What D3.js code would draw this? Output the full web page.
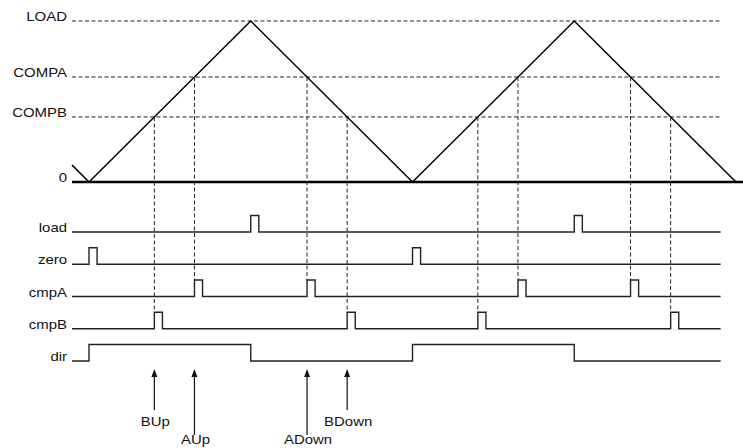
<!DOCTYPE html>
<html>
<head>
<meta charset="utf-8">
<script src="https://cdn.jsdelivr.net/npm/d3@7"></script>
<style>
  html, body { margin: 0; padding: 0; background: #fff; }
  svg { display: block; }
  text { font-family: "Liberation Sans", Arial, Helvetica, sans-serif; font-size: 13px; fill: #111; }
</style>
</head>
<body>
<svg id="chart" width="743" height="448"></svg>
<script>
// ---- data ----
const counterTimes  = [-10.5, 0, 100, 200, 300, 400];
const counterValues = [10.5, 0, 100, 0, 100, 0];
const levelNames  = ["LOAD", "COMPA", "COMPB", "0"];
const levelValues = [100, 65.2, 40.4, 0];
const signalNames = ["load", "zero", "cmpA", "cmpB", "dir"];
const loadEvents = [100, 300];
const zeroEvents = [0, 200];
const dirUpEvents = [0, 200];
const dirDownEvents = [100, 300];
const arrowNames = ["BUp", "AUp", "ADown", "BDown"];
const arrowLevels = ["COMPB", "COMPA", "COMPA", "COMPB"];
const arrowDirections = ["up", "up", "down", "down"];
const pulseWidth = 5;
const signalStart = -10.5, signalEnd = 390.5;

// ---- scales ----
const svg = d3.select("#chart");
const x = d3.scaleLinear().domain([0, 400]).range([89, 736]);
const y = d3.scaleLinear().domain([0, 100]).range([182, 21]);
const ySig = d3.scalePoint().domain(signalNames).range([232, 361]);
const pulseH = 16.5;
const stretch = 1.15;
const labelX = 67;

const level = name => levelValues[levelNames.indexOf(name)];

// crossing times of counter with a level
function crossings(v) {
  const out = [];
  for (let i = 0; i < counterTimes.length - 1; i++) {
    const a = counterValues[i], b = counterValues[i + 1];
    if ((v - a) * (v - b) < 0) {
      const t = counterTimes[i] + (v - a) / (b - a) * (counterTimes[i + 1] - counterTimes[i]);
      out.push({t, dir: b > a ? "up" : "down"});
    }
  }
  return out;
}
const cmpAEvents = crossings(level("COMPA"));
const cmpBEvents = crossings(level("COMPB"));

function addLabel(txt, xx, yy, anchor) {
  svg.append("text")
    .attr("transform", `translate(${xx},${yy}) scale(${stretch},1)`)
    .attr("text-anchor", anchor)
    .text(txt);
}

// ---- level dashed lines ----
levelNames.forEach((n, i) => {
  const yy = y(levelValues[i]);
  if (n !== "0") {
    svg.append("line")
      .attr("x1", 72).attr("x2", x(390.2))
      .attr("y1", yy).attr("y2", yy)
      .attr("stroke", "#222").attr("stroke-width", 1)
      .attr("stroke-dasharray", "4,2.5");
  }
  addLabel(n, labelX, yy, "end");
});
// zero axis (thick)
svg.append("line")
  .attr("x1", 72).attr("x2", 743)
  .attr("y1", y(0)).attr("y2", y(0))
  .attr("stroke", "#000").attr("stroke-width", 2.6);

// ---- counter triangle ----
svg.append("path")
  .datum(counterTimes.map((t, i) => [t, counterValues[i]]))
  .attr("fill", "none").attr("stroke", "#000").attr("stroke-width", 1.5)
  .attr("d", d3.line().x(d => x(d[0])).y(d => y(d[1])));

// ---- vertical dashed lines ----
const vlines = [];
cmpBEvents.forEach(e => vlines.push({t: e.t, v: level("COMPB"), sig: "cmpB"}));
cmpAEvents.forEach(e => vlines.push({t: e.t, v: level("COMPA"), sig: "cmpA"}));
vlines.forEach(d => {
  svg.append("line")
    .attr("x1", x(d.t)).attr("x2", x(d.t))
    .attr("y1", y(d.v)).attr("y2", ySig(d.sig) - pulseH)
    .attr("stroke", "#222").attr("stroke-width", 1)
    .attr("stroke-dasharray", "4,2.5");
});

// ---- signals ----
function pulseTrain(events) {
  const pts = [[signalStart, 0]];
  events.slice().sort((a, b) => a - b).forEach(e => {
    pts.push([e, 0], [e, 1], [e + pulseWidth, 1], [e + pulseWidth, 0]);
  });
  pts.push([signalEnd, 0]);
  return pts;
}
function stepTrain(ups, downs) {
  const ev = ups.map(t => [t, 1]).concat(downs.map(t => [t, 0])).sort((a, b) => a[0] - b[0]);
  let cur = 0;
  const pts = [[signalStart, 0]];
  ev.forEach(([t, v]) => { pts.push([t, cur], [t, v]); cur = v; });
  pts.push([signalEnd, cur]);
  return pts;
}
const signalData = {
  load: pulseTrain(loadEvents),
  zero: pulseTrain(zeroEvents),
  cmpA: pulseTrain(cmpAEvents.map(e => e.t)),
  cmpB: pulseTrain(cmpBEvents.map(e => e.t)),
  dir: stepTrain(dirUpEvents, dirDownEvents)
};
signalNames.forEach(n => {
  const base = ySig(n);
  svg.append("path")
    .datum(signalData[n])
    .attr("fill", "none").attr("stroke", "#222").attr("stroke-width", 1.4)
    .attr("d", d3.line().x(d => x(d[0])).y(d => base - d[1] * pulseH));
  addLabel(n, labelX, base, "end");
});

// ---- arrows ----
const firstCross = (lv, dir) => crossings(level(lv)).find(e => e.dir === dir).t;
arrowNames.forEach((name, i) => {
  const t = firstCross(arrowLevels[i], arrowDirections[i]);
  const xx = x(t);
  const isA = name.startsWith("A");
  const tip = 369, bottom = isA ? 435 : 410;
  svg.append("line")
    .attr("x1", xx).attr("x2", xx).attr("y1", tip + 6).attr("y2", bottom)
    .attr("stroke", "#111").attr("stroke-width", 1.2);
  svg.append("path")
    .attr("d", `M${xx},${tip} L${xx - 3},${tip + 8} L${xx + 3},${tip + 8} Z`)
    .attr("fill", "#111");
  addLabel(name, xx + 1, isA ? 443.5 : 426, "middle");
});
</script>
</body>
</html>
